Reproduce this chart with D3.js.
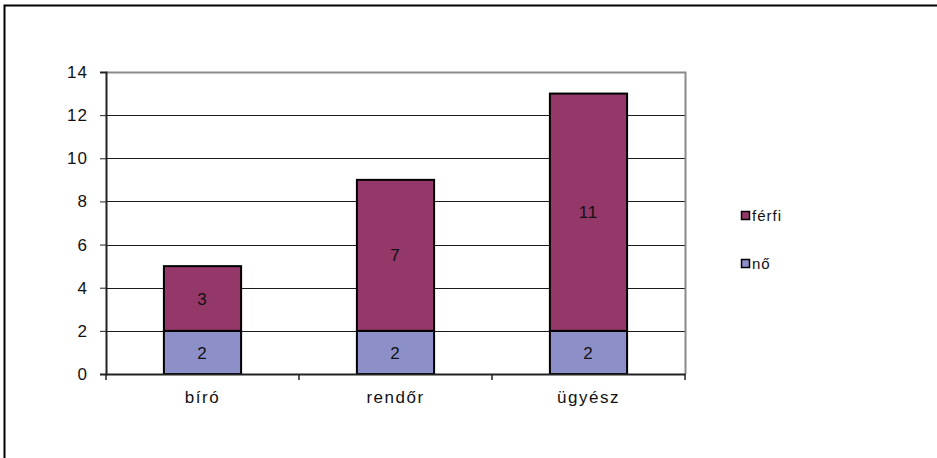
<!DOCTYPE html>
<html>
<head>
<meta charset="utf-8">
<script src="https://cdn.jsdelivr.net/npm/d3@7"></script>
<style>
  html, body { margin: 0; padding: 0; background: #fff; }
  svg { display: block; font-family: "Liberation Sans", Arial, sans-serif; }
</style>
</head>
<body>
<svg id="chart" width="937" height="458"></svg>
<script>
// Data
const categories = ["bíró", "rendőr", "ügyész"];
const noValues = [2, 2, 2];
const ferfiValues = [3, 7, 11];
const seriesNames = ["nő", "férfi"];
const seriesColors = ["#8d8fc8", "#943769"];
const yTicks = [0, 2, 4, 6, 8, 10, 12, 14];

const svg = d3.select("#chart");
const FONT = "'Liberation Sans', Arial, sans-serif";

// Outer frame
svg.append("path")
  .attr("d", "M4.5,460 L4.5,5.5 L940,5.5")
  .attr("fill", "none").attr("stroke", "#000").attr("stroke-width", 2);

const plot = { left: 106, top: 72, right: 685, bottom: 374 };

const x = d3.scaleBand().domain(categories).range([plot.left, plot.right]).paddingInner(0).paddingOuter(0);
const y = d3.scaleLinear().domain([0, 14]).range([plot.bottom, plot.top]);

// Gridlines
svg.append("g").selectAll("line").data(yTicks.filter(t => t > 0 && t < 14)).join("line")
  .attr("x1", plot.left).attr("x2", plot.right)
  .attr("y1", d => Math.round(y(d)) + 0.5).attr("y2", d => Math.round(y(d)) + 0.5)
  .attr("stroke", "#1a1a1a").attr("stroke-width", 1);

// Plot area border (top/right)
svg.append("path")
  .attr("d", `M${plot.left},${plot.top + 0.5} L${plot.right + 0.5},${plot.top + 0.5} L${plot.right + 0.5},${plot.bottom}`)
  .attr("fill", "none").attr("stroke", "#8a8a8a").attr("stroke-width", 2);

// Stacked bars
const stackData = categories.map((c, i) => ({ cat: c, "nő": noValues[i], "férfi": ferfiValues[i] }));
const stacked = d3.stack().keys(seriesNames)(stackData);
const barW = x.bandwidth() * 0.4;

stacked.forEach((layer, li) => {
  const g = svg.append("g");
  g.selectAll("rect").data(layer).join("rect")
    .attr("x", d => x(d.data.cat) + (x.bandwidth() - barW) / 2)
    .attr("y", d => y(d[1]))
    .attr("width", barW)
    .attr("height", d => y(d[0]) - y(d[1]))
    .attr("fill", seriesColors[li])
    .attr("stroke", "#000").attr("stroke-width", 2);
  g.selectAll("text").data(layer).join("text")
    .attr("x", d => x(d.data.cat) + x.bandwidth() / 2)
    .attr("y", d => (y(d[0]) + y(d[1])) / 2)
    .attr("dy", "0.36em")
    .attr("text-anchor", "middle")
    .attr("font-size", 17).attr("fill", "#111")
    .attr("letter-spacing", 1)
    .text(d => d[1] - d[0]);
});

// Y axis
const yAxis = d3.axisLeft(y).tickValues(yTicks).tickSize(6).tickPadding(12);
const yg = svg.append("g").attr("transform", `translate(${plot.left},0)`).call(yAxis);
yg.select(".domain").attr("stroke", "#222").attr("stroke-width", 2);
yg.selectAll(".tick line").attr("stroke", "#222");
yg.selectAll(".tick text").attr("font-size", 17).attr("fill", "#111")
  .attr("letter-spacing", 1)
  .attr("font-family", FONT);

// X axis
const xAxis = d3.axisBottom(x).tickSize(0).tickPadding(17);
const xg = svg.append("g").attr("transform", `translate(0,${plot.bottom})`).call(xAxis);
xg.select(".domain").attr("stroke", "#222").attr("stroke-width", 2);
xg.selectAll(".tick text").attr("font-size", 17).attr("fill", "#111")
  .attr("letter-spacing", 1.5)
  .attr("font-family", FONT);
// category boundary tick marks
const bounds = [plot.left, ...categories.map(c => x(c) + x.bandwidth())];
svg.append("g").selectAll("line").data(bounds).join("line")
  .attr("x1", d => d).attr("x2", d => d)
  .attr("y1", plot.bottom).attr("y2", plot.bottom + 6)
  .attr("stroke", "#222").attr("stroke-width", 1.5);

// Legend
const legendItems = [
  { name: "férfi", color: seriesColors[1], y: 216 },
  { name: "nő", color: seriesColors[0], y: 264 }
];
const lg = svg.append("g");
legendItems.forEach(it => {
  lg.append("rect")
    .attr("x", 741.5).attr("y", it.y - 4.5).attr("width", 8).attr("height", 8)
    .attr("fill", it.color).attr("stroke", "#000").attr("stroke-width", 1.5);
  lg.append("text")
    .attr("x", 752).attr("y", it.y).attr("dy", "0.36em")
    .attr("font-size", 15).attr("fill", "#111")
    .attr("letter-spacing", 1)
    .text(it.name);
});
</script>
</body>
</html>
